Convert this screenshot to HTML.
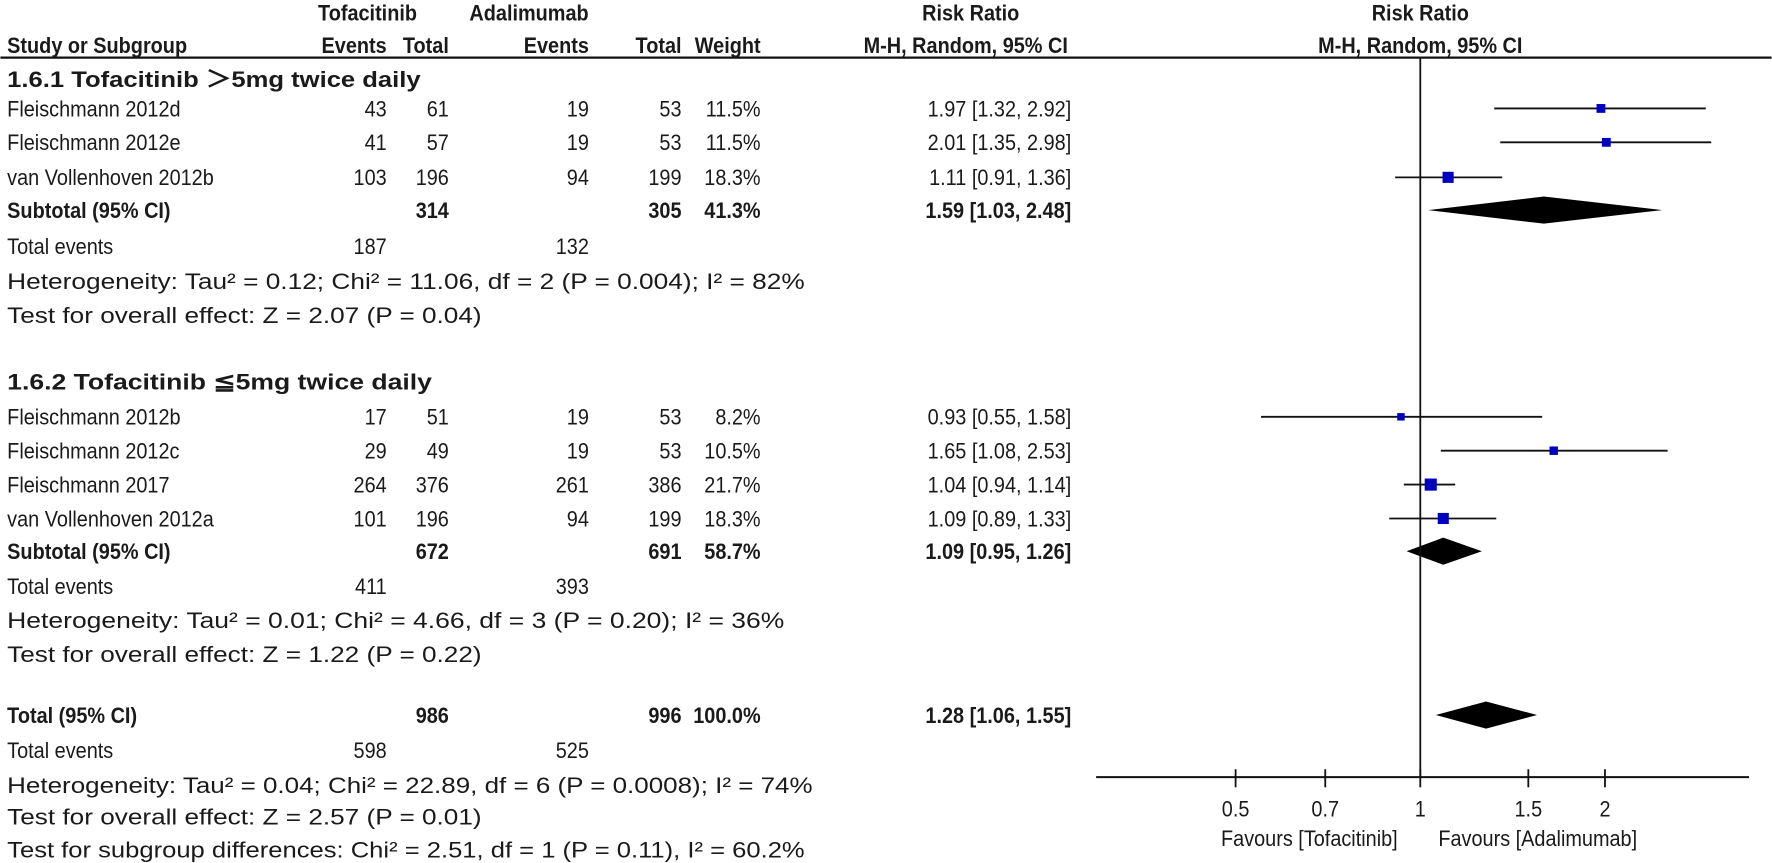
<!DOCTYPE html>
<html><head><meta charset="utf-8"><style>
html,body{margin:0;padding:0;background:#fff;width:1772px;height:863px;overflow:hidden}
svg text{font-family:"Liberation Sans",Arial,sans-serif;font-size:20px;fill:#1a1a1a}
.b{font-weight:bold}
</style></head><body>
<svg id="fp" width="1772" height="863" viewBox="0 0 1568 764" xmlns="http://www.w3.org/2000/svg">
<g id="hdr">
<line x1="0" y1="51" x2="1568" y2="51" stroke="#111" stroke-width="2"/>
</g>
<g id="rows"></g>
<g id="plot"></g>
</svg>
<script>
var studies=["Fleischmann 2012d","Fleischmann 2012e","van Vollenhoven 2012b","Fleischmann 2012b","Fleischmann 2012c","Fleischmann 2017","van Vollenhoven 2012a"];
var tofaEvents=[43,41,103,17,29,264,101];
var tofaTotal=[61,57,196,51,49,376,196];
var adaEvents=[19,19,94,19,19,261,94];
var adaTotal=[53,53,199,53,53,386,199];
var weights=[11.5,11.5,18.3,8.2,10.5,21.7,18.3];
var rr=[1.97,2.01,1.11,0.93,1.65,1.04,1.09];
var lo=[1.32,1.35,0.91,0.55,1.08,0.94,0.89];
var hi=[2.92,2.98,1.36,1.58,2.53,1.14,1.33];
var studyY=[96,126,157,369,399,429,459];
var subNames=["Subtotal (95% CI)","Subtotal (95% CI)","Total (95% CI)"];
var subTofaTotal=[314,672,986];
var subAdaTotal=[305,691,996];
var subWeight=["41.3%","58.7%","100.0%"];
var subRR=[1.59,1.09,1.28];
var subLo=[1.03,0.95,1.06];
var subHi=[2.48,1.26,1.55];
var subY=[186,488,633];
var tickVals=[0.5,0.7,1,1.5,2];
var tickLabels=["0.5","0.7","1","1.5","2"];
var NS="http://www.w3.org/2000/svg";
var SX=0.88;
function xs(v){return 1257+163.5*Math.log(v)/Math.LN2;}
function el(tag,attrs,parent,txt){var e=document.createElementNS(NS,tag);for(var k in attrs)e.setAttribute(k,attrs[k]);if(txt!==undefined)e.textContent=txt;parent.appendChild(e);return e;}
var rows=document.getElementById('rows'),plot=document.getElementById('plot'),hdr=document.getElementById('hdr');
function f2(v){return v.toFixed(2);}
function ntext(parent,x,y,s,anchor,bold,tl){var a={x:x/SX,y:y,transform:'scale('+SX+',1)'};if(anchor)a['text-anchor']=anchor;if(bold)a['class']='b';if(tl){a.textLength=tl/SX;a.lengthAdjust='spacingAndGlyphs';}return el('text',a,parent,s);}
function txt(x,y,s,anchor,bold,tl){var t=ntext(rows,x,y+7,s,anchor,bold,tl);


return t;}
var hd=[[325,18,"Tofacitinib","middle"],[468,18,"Adalimumab","middle"],[859,18,"Risk Ratio","middle"],[1257,18,"Risk Ratio","middle"],
[6,47,"Study or Subgroup",null],[342,47,"Events","end"],[397,47,"Total","end"],[521,47,"Events","end"],[603,47,"Total","end"],[673,47,"Weight","end"],[945,47,"M-H, Random, 95% CI","end"],[1257,47,"M-H, Random, 95% CI","middle"]];
for(var h=0;h<hd.length;h++){var ht=ntext(hdr,hd[h][0],hd[h][1],hd[h][2],hd[h][3],true);

}
txt(6,70,"1.6.1 Tofacitinib \uFF1E5mg twice daily",null,true,366);
txt(6,338,"1.6.2 Tofacitinib \u22665mg twice daily",null,true,376);
var teY=[218,519,664],teT=[187,411,598],teA=[132,393,525];
var hetY=[249,549,695];
var hetS=["Heterogeneity: Tau\u00B2 = 0.12; Chi\u00B2 = 11.06, df = 2 (P = 0.004); I\u00B2 = 82%","Heterogeneity: Tau\u00B2 = 0.01; Chi\u00B2 = 4.66, df = 3 (P = 0.20); I\u00B2 = 36%","Heterogeneity: Tau\u00B2 = 0.04; Chi\u00B2 = 22.89, df = 6 (P = 0.0008); I\u00B2 = 74%"];
var hetL=[706,688,713];
var testY=[279,579,723];
var testS=["Test for overall effect: Z = 2.07 (P = 0.04)","Test for overall effect: Z = 1.22 (P = 0.22)","Test for overall effect: Z = 2.57 (P = 0.01)"];
for(var i=0;i<3;i++){
 txt(6,teY[i],"Total events");txt(342,teY[i],String(teT[i]),'end');txt(521,teY[i],String(teA[i]),'end');
 txt(6,hetY[i],hetS[i],null,false,hetL[i]);
 txt(6,testY[i],testS[i],null,false,420);
}
txt(6,752,"Test for subgroup differences: Chi\u00B2 = 2.51, df = 1 (P = 0.11), I\u00B2 = 60.2%",null,false,706);
for(var i=0;i<studies.length;i++){
 var y=studyY[i];
 txt(6,y,studies[i]);txt(342,y,String(tofaEvents[i]),'end');txt(397,y,String(tofaTotal[i]),'end');
 txt(521,y,String(adaEvents[i]),'end');txt(603,y,String(adaTotal[i]),'end');txt(673,y,weights[i].toFixed(1)+"%",'end');
 txt(948,y,f2(rr[i])+" ["+f2(lo[i])+", "+f2(hi[i])+"]",'end');
 var l=el('line',{x1:xs(lo[i]),x2:xs(hi[i]),y1:y,y2:y,stroke:'#111','stroke-width':1.6},plot);
 
 
 var s=2.3*Math.sqrt(weights[i]);
 var r=el('rect',{x:xs(rr[i])-s/2,y:y-s/2,width:s,height:s,fill:'#0000c0'},plot);
 
 
}
for(var j=0;j<3;j++){
 var y=subY[j];
 txt(6,y,subNames[j],null,true);txt(397,y,String(subTofaTotal[j]),'end',true);txt(603,y,String(subAdaTotal[j]),'end',true);
 txt(673,y,subWeight[j],'end',true);
 txt(948,y,f2(subRR[j])+" ["+f2(subLo[j])+", "+f2(subHi[j])+"]",'end',true);
 var d=el('polygon',{points:[xs(subLo[j])+','+y,xs(subRR[j])+','+(y-12),xs(subHi[j])+','+y,xs(subRR[j])+','+(y+12)].join(' '),fill:'#000'},plot);
 
 
}
var v=el('line',{x1:1257,x2:1257,y1:51,y2:688,stroke:'#111','stroke-width':1.6},plot);


var ax=el('line',{x1:970,x2:1548,y1:688,y2:688,stroke:'#111','stroke-width':1.8},plot);


for(var k=0;k<tickVals.length;k++){
 var tx=xs(tickVals[k]);
 var tk=el('line',{x1:tx,x2:tx,y1:681,y2:697,stroke:'#111','stroke-width':1.6},plot);
 
 
 var tl=ntext(plot,tx,723,tickLabels[k],'middle');
 
 
}
var f1=ntext(plot,1237,749,"Favours [Tofacitinib]",'end');


var f2t=ntext(plot,1273,749,"Favours [Adalimumab]");


</script>
</body></html>
